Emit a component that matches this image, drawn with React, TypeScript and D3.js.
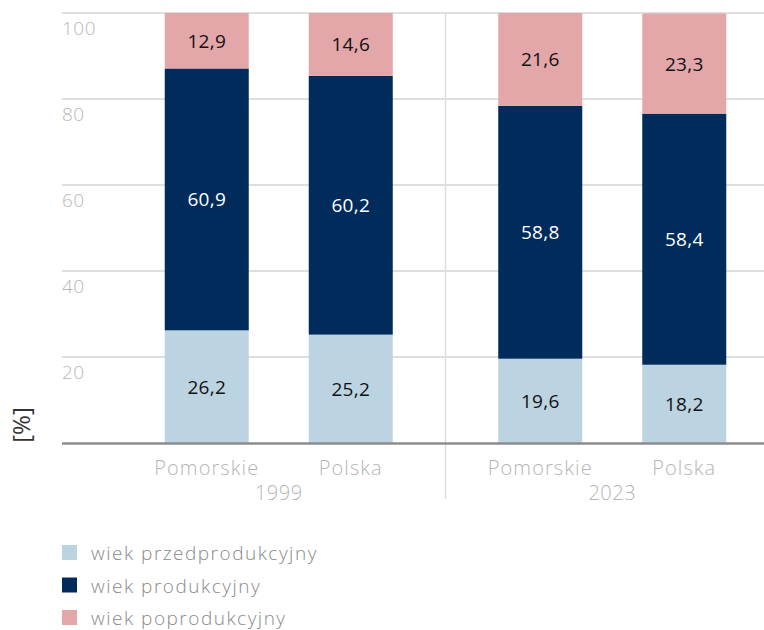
import { useEffect, useRef } from 'react'
import * as d3 from 'd3'

const years = ['1999', '2023']
const regions = ['Pomorskie', 'Polska']
const seriesNames = ['wiek przedprodukcyjny', 'wiek produkcyjny', 'wiek poprodukcyjny']
const seriesColors = ['#bcd4e1', '#002b5a', '#e3a7aa']
const labelColors = ['#111111', '#ffffff', '#111111']
// values per bar: [Pomorskie 1999, Polska 1999, Pomorskie 2023, Polska 2023]
const preProductive = [26.2, 25.2, 19.6, 18.2]
const productive = [60.9, 60.2, 58.8, 58.4]
const postProductive = [12.9, 14.6, 21.6, 23.3]
const yTicks = [20, 40, 60, 80, 100]

const FONT = '"Open Sans", "Noto Sans", sans-serif'

export default function App() {
  const svgRef = useRef<SVGSVGElement>(null)

  useEffect(() => {
    if (!svgRef.current) return
    const svg = d3.select(svgRef.current)
    svg.selectAll('*').remove()

    const plotLeft = 62
    const plotRight = 764
    const y = d3.scaleLinear().domain([0, 100]).range([443, 13])

    const xOuter = d3.scaleBand<string>().domain(years).range([112, 779])
    const xInner = d3.scaleBand<string>()
      .domain(regions)
      .range([xOuter.bandwidth() / 2 - 144, xOuter.bandwidth() / 2 + 144])
      .paddingInner(0.4167)
      .paddingOuter(0.2083)

    const bars = years.flatMap((yr) => regions.map((rg) => ({ year: yr, region: rg })))
    const seriesValues = [preProductive, productive, postProductive]

    // gridlines
    svg.append('g')
      .selectAll('line')
      .data(yTicks)
      .join('line')
      .attr('x1', plotLeft)
      .attr('x2', plotRight)
      .attr('y1', (d) => y(d))
      .attr('y2', (d) => y(d))
      .attr('stroke', '#d4d4d4')
      .attr('stroke-width', 1.3)

    // tick labels, sitting under each gridline
    svg.append('g')
      .selectAll('text')
      .data(yTicks)
      .join('text')
      .attr('x', plotLeft)
      .attr('y', (d) => y(d) + 22)
      .attr('font-family', FONT)
      .attr('font-weight', 300)
      .attr('font-size', 19)
      .attr('letter-spacing', 0.5)
      .attr('fill', '#b8b8b8')
      .text((d) => d)

    // group separator
    svg.append('line')
      .attr('x1', xOuter('2023')!)
      .attr('x2', xOuter('2023')!)
      .attr('y1', y(100))
      .attr('y2', 499)
      .attr('stroke', '#dddddd')
      .attr('stroke-width', 1.5)

    // stacked bars
    const stack = d3.stack<number[], number>()
      .keys([0, 1, 2])
      .value((d, k) => d[k])
    const rows = bars.map((_, i) => seriesValues.map((s) => s[i]))
    const stacked = stack(rows)

    const barX = (i: number) => xOuter(bars[i].year)! + xInner(bars[i].region)!

    stacked.forEach((layer, si) => {
      const g = svg.append('g')
      g.selectAll('rect')
        .data(layer)
        .join('rect')
        .attr('x', (_, i) => barX(i))
        .attr('width', xInner.bandwidth())
        .attr('y', (d) => y(Math.min(d[1], 100)))
        .attr('height', (d) => y(d[0]) - y(Math.min(d[1], 100)))
        .attr('fill', seriesColors[si])

      g.selectAll('text')
        .data(layer)
        .join('text')
        .attr('x', (_, i) => barX(i) + xInner.bandwidth() / 2)
        .attr('y', (d) => (y(d[0]) + y(Math.min(d[1], 100))) / 2 + 7)
        .attr('text-anchor', 'middle')
        .attr('font-family', FONT)
        .attr('font-size', 19)
        .attr('letter-spacing', 0.3)
        .attr('fill', labelColors[si])
        .text((d) => d3.format('.1f')(d[1] - d[0]).replace('.', ','))
    })

    // baseline
    svg.append('line')
      .attr('x1', plotLeft)
      .attr('x2', plotRight)
      .attr('y1', y(0) + 0.5)
      .attr('y2', y(0) + 0.5)
      .attr('stroke', '#8c8c8c')
      .attr('stroke-width', 2.5)

    // category labels
    svg.append('g')
      .selectAll('text')
      .data(bars)
      .join('text')
      .attr('x', (d) => xOuter(d.year)! + xInner(d.region)! + xInner.bandwidth() / 2)
      .attr('y', 475)
      .attr('text-anchor', 'middle')
      .attr('font-family', FONT)
      .attr('font-weight', 300)
      .attr('font-size', 20)
      .attr('letter-spacing', 1.1)
      .attr('fill', '#b5b5b5')
      .text((d) => d.region)

    svg.append('g')
      .selectAll('text')
      .data(years)
      .join('text')
      .attr('x', (d) => xOuter(d)! + xOuter.bandwidth() / 2)
      .attr('y', 500)
      .attr('text-anchor', 'middle')
      .attr('font-family', FONT)
      .attr('font-weight', 300)
      .attr('font-size', 20)
      .attr('letter-spacing', 0.5)
      .attr('fill', '#b5b5b5')
      .text((d) => d)

    // y axis unit
    svg.append('text')
      .attr('transform', 'translate(30,425) rotate(-90)')
      .attr('text-anchor', 'middle')
      .attr('font-family', FONT)
      .attr('font-size', 24)
      .attr('fill', '#333333')
      .text('[%]')

    // legend
    const legend = svg.append('g')
      .selectAll('g')
      .data(seriesNames)
      .join('g')
      .attr('transform', (_, i) => `translate(62,${553 + i * 32.5})`)

    legend.append('rect')
      .attr('x', 0)
      .attr('y', -8)
      .attr('width', 15)
      .attr('height', 15)
      .attr('fill', (_, i) => seriesColors[i])

    legend.append('text')
      .attr('x', 29)
      .attr('y', 7)
      .attr('font-family', FONT)
      .attr('font-weight', 300)
      .attr('font-size', 19)
      .attr('letter-spacing', 1.5)
      .attr('fill', '#8a8a8a')
      .text((d) => d)
  }, [])

  return (
    <svg
      ref={svgRef}
      width={764}
      height={630}
      style={{ position: 'absolute', left: 0, top: 0, background: '#fff' }}
    />
  )
}
